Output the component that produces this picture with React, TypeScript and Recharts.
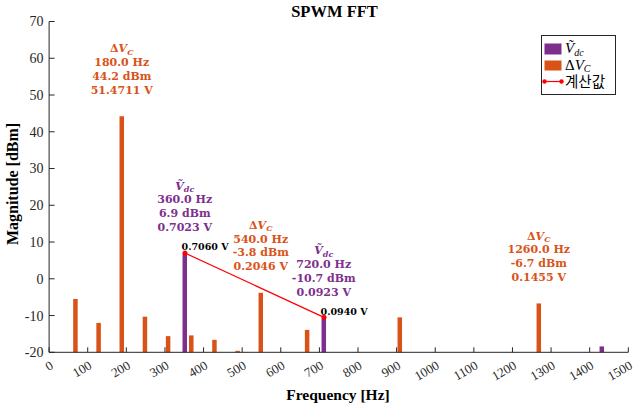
import React from 'react'
import { ComposedChart, Bar, Line, XAxis, YAxis, Legend, LabelList } from 'recharts'

// harmonic bins (Hz) and FFT magnitudes (dBm), null = no bar in that bin
const freqs = [60, 120, 180, 240, 300, 360, 420, 480, 540, 600, 660, 720, 780, 840, 900, 960, 1020, 1080, 1140, 1200, 1260, 1320, 1380, 1440]
const vdcDbm = [null, null, null, null, null, 6.9, null, null, null, null, null, -10.7, null, null, null, null, null, null, null, null, null, null, null, -18.4]
const dvcDbm = [-5.5, -12.0, 44.2, -10.3, -15.6, -15.4, -16.6, -19.6, -3.8, null, -13.9, null, null, null, -10.5, null, null, null, null, null, -6.7, null, null, null]

// peaks that carry a text note
const vdcNoteFreqs = [360, 720]
const vdcNoteVolts = ['0.7023', '0.0923']
const dvcNoteFreqs = [180, 540, 1260]
const dvcNoteVolts = ['51.4711', '0.2046', '0.1455']

// calculated values (red line), plotted on the Vdc bars
const calcFreqs = [352, 712]
const calcDbm = [7.0, -10.5]
const calcVolts = ['0.7060', '0.0940']

const xTicks = [0, 100, 200, 300, 400, 500, 600, 700, 800, 900, 1000, 1100, 1200, 1300, 1400, 1500]
const yTicks = [-20, -10, 0, 10, 20, 30, 40, 50, 60, 70]

const PURPLE = '#7E2F8E'
const ORANGE = '#D95319'
const AXIS = '#262626'
const FLOOR = yTicks[0]

const data = freqs.map((f, i) => ({ freq: f, vdc: vdcDbm[i], dvc: dvcDbm[i] }))
const calcData = calcFreqs.map((f, i) => ({ freq: f, calc: calcDbm[i] }))

const noteFont = { fontFamily: 'DejaVu Serif', fontWeight: 700, fontSize: 11 }

function symbol(series: string, sub: number, dy: number) {
  if (series === 'vdc') {
    return [
      <tspan key="v" fontStyle="italic">{'\u1E7C'}</tspan>,
      <tspan key="s" fontStyle="italic" fontSize={sub} dy={dy}>dc</tspan>,
    ]
  }
  return [
    <tspan key="d">{'\u0394'}</tspan>,
    <tspan key="v" fontStyle="italic">V</tspan>,
    <tspan key="s" fontStyle="italic" fontSize={sub} dy={dy}>C</tspan>,
  ]
}

function makeNote(series: 'vdc' | 'dvc') {
  const noteFreqs = series === 'vdc' ? vdcNoteFreqs : dvcNoteFreqs
  const volts = series === 'vdc' ? vdcNoteVolts : dvcNoteVolts
  const values = series === 'vdc' ? vdcDbm : dvcDbm
  const color = series === 'vdc' ? PURPLE : ORANGE
  return (props: any) => {
    // zero-height bars are skipped, so find the bin from the payload or the value
    let i = props.payload && props.payload.freq != null ? freqs.indexOf(props.payload.freq) : -1
    if (i < 0) {
      const v = Array.isArray(props.value) ? props.value[1] : props.value
      i = freqs.findIndex((f, j) => values[j] === v && noteFreqs.includes(f))
    }
    if (i < 0) return null
    const k = noteFreqs.indexOf(freqs[i])
    if (k < 0) return null
    const vb = props.viewBox && props.viewBox.width != null ? props.viewBox : props
    const cx = vb.x + vb.width / 2
    const top = Math.min(vb.y, vb.y + vb.height)
    const step = 13.8
    const last = top - 26.5
    const lines = [`${freqs[i].toFixed(1)} Hz`, `${(values[i] as number).toFixed(1)} dBm`, `${volts[k]} V`]
    return (
      <g key={`note-${series}-${i}`}>
        <text x={cx} y={last - 3 * step + 4} textAnchor="middle" fill={color} {...noteFont}>
          {symbol(series, 8, 2.5)}
        </text>
        {lines.map((t, j) => (
          <text key={j} x={cx} y={last - (2 - j) * step + 4} textAnchor="middle" fill={color} {...noteFont}>
            {t}
          </text>
        ))}
      </g>
    )
  }
}

const calcLabel = (props: any) => {
  const x = props.x ?? props.viewBox?.x
  const y = props.y ?? props.viewBox?.y
  const k = props.index
  return (
    <text key={`calc-${k}`} x={x - 3.5} y={y - 2.7} fill="#000" fontFamily="DejaVu Serif" fontWeight={700} fontSize={9.5}>
      {calcVolts[k]} V
    </text>
  )
}

const XTick = ({ x, y, payload }: any) => (
  <text
    x={x + 3}
    y={y}
    dy={4}
    textAnchor="end"
    transform={`rotate(-30 ${x + 3} ${y})`}
    fontFamily="Liberation Serif"
    fontSize={13}
    fill={AXIS}
  >
    {payload.value}
  </text>
)

const LegendBox = () => (
  <svg width={75} height={60} style={{ display: 'block' }}>
    <rect x={0.5} y={0.5} width={74} height={59} fill="#fff" stroke={AXIS} />
    <rect x={3.5} y={8.5} width={17} height={11} fill={PURPLE} />
    <text x={24} y={18} fontFamily="Liberation Serif" fontSize={15} fill="#000">
      {symbol('vdc', 10, 2.5)}
    </text>
    <rect x={3.5} y={25.5} width={17} height={10} fill={ORANGE} />
    <text x={24} y={34.5} fontFamily="Liberation Serif" fontSize={15} fill="#000">
      {symbol('dvc', 10, 2.5)}
    </text>
    <line x1={3} y1={46.5} x2={21} y2={46.5} stroke="#ff0000" strokeWidth={1.2} />
    <circle cx={3.5} cy={46.5} r={2.2} fill="#ff0000" />
    <circle cx={20.5} cy={46.5} r={2.2} fill="#ff0000" />
    <text x={24} y={52} fontFamily="'Noto Sans CJK KR'" fontSize={14.5} fill="#000">
      계산값
    </text>
  </svg>
)

export default function App() {
  return (
    <div style={{ position: 'absolute', left: 0, top: 0, width: 634, height: 409, background: '#fff' }}>
      <ComposedChart
        width={634}
        height={409}
        data={data}
        margin={{ top: 21.5, right: 5.7, bottom: 0, left: 0 }}
        barGap={2}
      >
        <XAxis
          dataKey="freq"
          type="number"
          domain={[0, 1500]}
          ticks={xTicks}
          height={56.7}
          stroke={AXIS}
          tickSize={-5}
          tickMargin={17.2}
          tick={<XTick />}
          interval={0}
        />
        <XAxis
          xAxisId="top"
          orientation="top"
          dataKey="freq"
          type="number"
          domain={[0, 1500]}
          ticks={xTicks}
          height={0}
          stroke={AXIS}
          tickSize={-5}
          tick={false}
          interval={0}
        />
        <YAxis
          type="number"
          domain={[yTicks[0], yTicks[yTicks.length - 1]]}
          ticks={yTicks}
          width={49.1}
          stroke={AXIS}
          tickSize={-5.5}
          tickMargin={11.1}
          tick={{ fontFamily: 'Liberation Serif', fontSize: 14, fill: AXIS }}
          interval={0}
        />
        <YAxis
          yAxisId="right"
          orientation="right"
          type="number"
          domain={[yTicks[0], yTicks[yTicks.length - 1]]}
          ticks={yTicks}
          width={0}
          stroke={AXIS}
          tickSize={-5.5}
          tick={false}
          interval={0}
        />
        <Bar dataKey={(d: any) => [FLOOR, d.vdc ?? FLOOR]} name="vdc" fill={PURPLE} barSize={4.5} isAnimationActive={false}>
          <LabelList content={makeNote('vdc')} />
        </Bar>
        <Bar dataKey={(d: any) => [FLOOR, d.dvc ?? FLOOR]} name="dvc" fill={ORANGE} barSize={4.5} isAnimationActive={false}>
          <LabelList content={makeNote('dvc')} />
        </Bar>
        <Line
          xAxisId="top"
          data={calcData}
          dataKey="calc"
          name="calc"
          stroke="#ff0000"
          strokeWidth={1.2}
          dot={{ r: 2.3, fill: '#ff0000', stroke: '#ff0000', strokeWidth: 0.5 }}
          isAnimationActive={false}
        >
          <LabelList content={calcLabel} />
        </Line>
        <Legend
          layout="horizontal"
          verticalAlign="middle"
          align="center"
          content={() => <LegendBox />}
          wrapperStyle={{ left: 541, top: 35, width: 75, height: 60 }}
        />
      </ComposedChart>
      <svg width={634} height={409} style={{ position: 'absolute', left: 0, top: 0, pointerEvents: 'none' }}>
        <text x={334.5} y={16.7} textAnchor="middle" fontFamily="Liberation Serif" fontWeight={700} fontSize={16.5} fill="#000">
          SPWM FFT
        </text>
        <text x={338} y={400} textAnchor="middle" fontFamily="Liberation Serif" fontWeight={700} fontSize={15.5} fill="#000">
          Frequency [Hz]
        </text>
        <text
          x={18}
          y={184}
          textAnchor="middle"
          transform="rotate(-90 18 184)"
          fontFamily="Liberation Serif"
          fontWeight={700}
          fontSize={16}
          fill="#000"
        >
          Magnitude [dBm]
        </text>
      </svg>
    </div>
  )
}
